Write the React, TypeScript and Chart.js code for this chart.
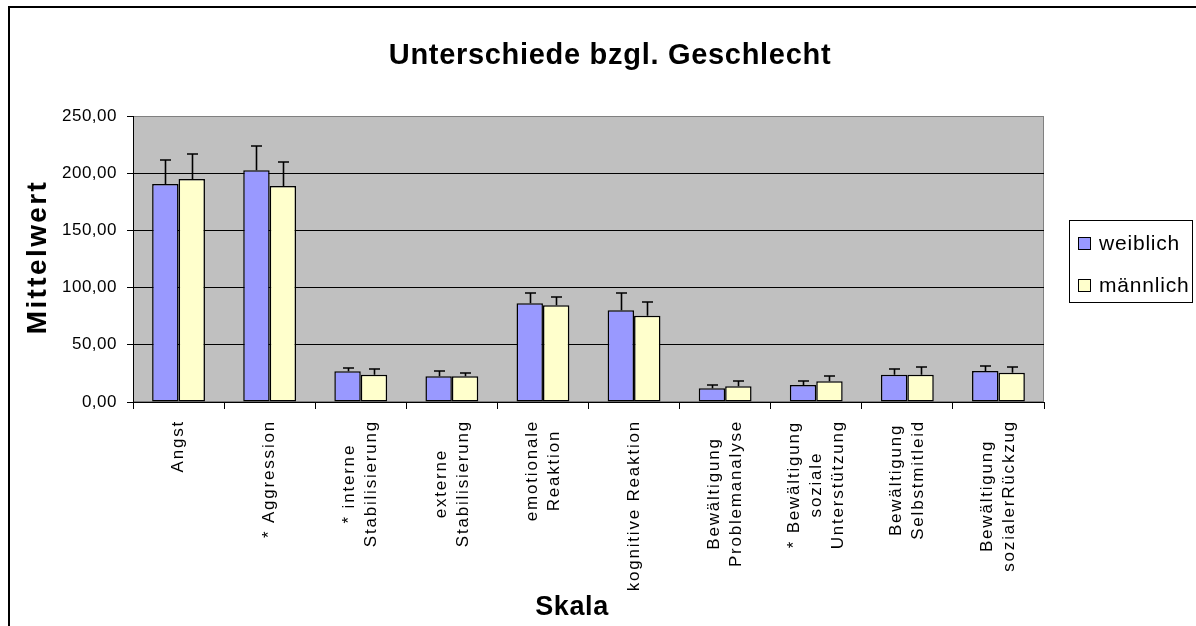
import { useEffect, useRef } from "react";
import { Chart, registerables } from "chart.js";

Chart.register(...registerables);

// ---- data ----
const categories: string[][] = [
  ["Angst"],
  ["* Aggression"],
  ["* interne", "Stabilisierung"],
  ["externe", "Stabilisierung"],
  ["emotionale", "Reaktion"],
  ["kognitive Reaktion"],
  ["Bewältigung", "Problemanalyse"],
  ["* Bewältigung", "soziale", "Unterstützung"],
  ["Bewältigung", "Selbstmitleid"],
  ["Bewältigung", "sozialerRückzug"],
];
const seriesNames = ["weiblich", "männlich"];
const weiblich = [190.6, 202.5, 26.8, 22.4, 86.3, 80.2, 12.0, 14.9, 23.9, 27.1];
const maennlich = [195.0, 188.8, 23.9, 22.4, 84.5, 75.4, 13.7, 18.1, 23.9, 25.6];
const errWeiblich = [20.9, 21.5, 3.2, 5.0, 9.2, 15.3, 2.9, 3.2, 4.9, 4.6];
const errMaennlich = [21.5, 21.2, 4.9, 3.2, 7.5, 12.3, 4.4, 4.6, 6.4, 4.7];
const yMin = 0;
const yMax = 250;
const yStep = 50;
const chartTitle = "Unterschiede bzgl. Geschlecht";
const yTitle = "Mittelwert";
const xTitle = "Skala";
const colors = ["#9999FF", "#FFFFCC"];

const FONT = "'Liberation Sans', Arial, sans-serif";

const decorPlugin = {
  id: "decor",
  beforeDraw(chart: any) {
    const { ctx, chartArea: a } = chart;
    ctx.save();
    ctx.fillStyle = "#ffffff";
    ctx.fillRect(0, 0, chart.width, chart.height);
    ctx.fillStyle = "#C0C0C0";
    ctx.fillRect(a.left, a.top, a.right - a.left, a.bottom - a.top);
    ctx.strokeStyle = "#808080";
    ctx.lineWidth = 1;
    ctx.strokeRect(a.left + 0.5, a.top + 0.5, a.right - a.left - 1, a.bottom - a.top - 1);
    ctx.restore();
    ctx.letterSpacing = "0.5px";
  },
  afterDatasetsDraw(chart: any) {
    const { ctx } = chart;
    const yScale = chart.scales.y;
    const errs = [errWeiblich, errMaennlich];
    const vals = [weiblich, maennlich];
    ctx.save();
    ctx.strokeStyle = "#000";
    ctx.lineWidth = 1.6;
    for (let d = 0; d < 2; d++) {
      const meta = chart.getDatasetMeta(d);
      meta.data.forEach((el: any, i: number) => {
        const x = Math.round(el.x) + 0.5;
        const y0 = yScale.getPixelForValue(vals[d][i]);
        const y1 = Math.round(yScale.getPixelForValue(vals[d][i] + errs[d][i]));
        ctx.beginPath();
        ctx.moveTo(x, y0);
        ctx.lineTo(x, y1);
        ctx.moveTo(x - 5.5, y1);
        ctx.lineTo(x + 5.5, y1);
        ctx.stroke();
      });
    }
    ctx.restore();
  },
  afterDraw(chart: any) {
    const { ctx } = chart;
    const xScale = chart.scales.x;
    ctx.save();
    ctx.fillStyle = "#000";

    // title
    ctx.letterSpacing = "0.7px";
    ctx.font = `bold 29px ${FONT}`;
    ctx.textAlign = "center";
    ctx.textBaseline = "alphabetic";
    ctx.fillText(chartTitle, 610, 64);

    // x title
    ctx.letterSpacing = "0.6px";
    ctx.font = `bold 27px ${FONT}`;
    ctx.fillText(xTitle, 572, 615);

    // y title
    ctx.save();
    ctx.letterSpacing = "2.4px";
    ctx.font = `bold 28px ${FONT}`;
    ctx.translate(38, 257);
    ctx.rotate(-Math.PI / 2);
    ctx.textBaseline = "middle";
    ctx.fillText(yTitle, 0, 0);
    ctx.restore();

    // x tick labels (rotated, multi-line, centered lines)
    ctx.letterSpacing = "1.8px";
    ctx.font = `17px ${FONT}`;
    const top = 420;
    const lineGap = 22;
    categories.forEach((lines, i) => {
      const cx = xScale.getPixelForValue(i);
      let maxW = 0;
      lines.forEach((l) => (maxW = Math.max(maxW, ctx.measureText(l).width)));
      const along = top + maxW / 2;
      lines.forEach((l, j) => {
        const lx = cx + (j - (lines.length - 1) / 2) * lineGap;
        ctx.save();
        ctx.translate(lx, along);
        ctx.rotate(-Math.PI / 2);
        ctx.textAlign = "center";
        ctx.textBaseline = "middle";
        ctx.fillText(l, 0, 0);
        ctx.restore();
      });
    });

    // legend
    ctx.letterSpacing = "0.8px";
    ctx.strokeStyle = "#000";
    ctx.lineWidth = 1;
    ctx.strokeRect(1069.5, 220.5, 123, 82);
    ctx.font = `21px ${FONT}`;
    ctx.textAlign = "left";
    ctx.textBaseline = "alphabetic";
    const rows = [250, 292];
    seriesNames.forEach((name, k) => {
      const by = rows[k];
      ctx.fillStyle = colors[k];
      ctx.fillRect(1078, by - 13, 13, 13);
      ctx.strokeRect(1078.5, by - 12.5, 12, 12);
      ctx.fillStyle = "#000";
      ctx.fillText(name, 1099, by);
    });

    // outer frame
    ctx.strokeStyle = "#000";
    ctx.lineWidth = 2;
    ctx.beginPath();
    ctx.moveTo(9, chart.height);
    ctx.lineTo(9, 7);
    ctx.lineTo(chart.width, 7);
    ctx.stroke();
    ctx.restore();
  },
};

export default function App() {
  const ref = useRef<HTMLCanvasElement | null>(null);
  useEffect(() => {
    if (!ref.current) return;
    const chart = new Chart(ref.current, {
      type: "bar",
      data: {
        labels: categories.map((c) => c.join(" ")),
        datasets: [
          {
            label: seriesNames[0],
            data: weiblich,
            backgroundColor: colors[0],
            borderColor: "#000",
            borderWidth: 1.5,
            borderSkipped: false,
          },
          {
            label: seriesNames[1],
            data: maennlich,
            backgroundColor: colors[1],
            borderColor: "#000",
            borderWidth: 1.5,
            borderSkipped: false,
          },
        ],
      },
      options: {
        responsive: false,
        animation: false,
        devicePixelRatio: 1,
        layout: { padding: { top: 116, right: 152, left: 0, bottom: 0 } },
        datasets: { bar: { categoryPercentage: 0.58, barPercentage: 1 } },
        plugins: {
          legend: { display: false },
          title: { display: false },
          tooltip: { enabled: false },
        },
        scales: {
          x: {
            offset: true,
            ticks: { display: false },
            grid: {
              display: true,
              offset: true,
              drawOnChartArea: false,
              drawTicks: true,
              tickLength: 7,
              color: "#000",
            },
            border: { display: true, color: "#000", width: 1 },
            afterFit: (s: any) => {
              s.height = 224;
            },
          },
          y: {
            min: yMin,
            max: yMax,
            ticks: {
              stepSize: yStep,
              padding: 10,
              color: "#000",
              font: { family: FONT, size: 17 },
              callback: (v: any) => Number(v).toFixed(2).replace(".", ","),
            },
            grid: {
              color: (c: any) => (c.tick && c.tick.value === yMax ? "#808080" : "#000"),
              tickColor: "#000",
              tickLength: 6,
              drawTicks: true,
            },
            border: { display: true, color: "#000", width: 1 },
            afterFit: (s: any) => {
              s.width = 133;
            },
          },
        },
      },
      plugins: [decorPlugin],
    });
    return () => chart.destroy();
  }, []);
  return (
    <div style={{ position: "fixed", left: 0, top: 0, width: 1196, height: 626, background: "#fff" }}>
      <canvas ref={ref} width={1196} height={626} style={{ display: "block" }} />
    </div>
  );
}
